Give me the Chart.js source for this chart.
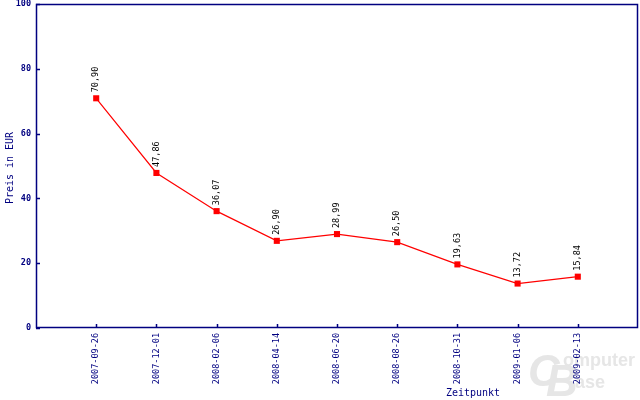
<!DOCTYPE html>
<html>
<head>
<meta charset="utf-8">
<script src="https://cdn.jsdelivr.net/npm/chart.js@4"></script>
<style>
  body { margin: 0; background: #fff; }
  canvas { display: block; }
</style>
</head>
<body>
<canvas id="preisChart" width="640" height="400"></canvas>
<script>
// Daten
const zeitpunkte = ['2007-09-26', '2007-12-01', '2008-02-06', '2008-04-14', '2008-06-20',
  '2008-08-26', '2008-10-31', '2009-01-06', '2009-02-13'];
const preise = [70.90, 47.86, 36.07, 26.90, 28.99, 26.50, 19.63, 13.72, 15.84];
const yTicks = [0, 20, 40, 60, 80, 100];

const NAVY = '#000080';
const MONO = '"DejaVu Sans Mono", "Liberation Mono", monospace';

// Rahmen, Ticks nach innen, Achsentitel, Wasserzeichen
const rahmenPlugin = {
  id: 'rahmen',
  beforeDraw(chart) {
    const ctx = chart.ctx;
    ctx.save();
    ctx.fillStyle = '#e6e6e6';
    ctx.font = 'italic bold 44px "Liberation Sans", Arial, sans-serif';
    ctx.textBaseline = 'alphabetic';
    ctx.fillText('C', 528, 386);
    ctx.fillText('B', 546, 396);
    ctx.font = 'bold 18px "Liberation Sans", Arial, sans-serif';
    ctx.fillText('omputer', 563, 366);
    ctx.fillText('ase', 575, 388);
    ctx.restore();
  },
  afterDraw(chart) {
    const { ctx, chartArea: a, scales } = chart;
    ctx.save();
    ctx.strokeStyle = NAVY;
    ctx.lineWidth = 1.5;
    ctx.strokeRect(a.left + 0.5, a.top + 0.5, a.right - a.left - 1, a.bottom - a.top - 1);
    ctx.beginPath();
    scales.y.ticks.forEach(t => {
      const y = Math.round(scales.y.getPixelForValue(t.value)) + 0.5;
      ctx.moveTo(a.left, y);
      ctx.lineTo(a.left + 4, y);
    });
    scales.x.ticks.forEach(t => {
      const x = Math.round(scales.x.getPixelForValue(t.value)) + 0.5;
      ctx.moveTo(x, a.bottom);
      ctx.lineTo(x, a.bottom - 4);
    });
    ctx.stroke();

    ctx.fillStyle = NAVY;
    ctx.font = '10px ' + MONO;
    ctx.textAlign = 'center';
    ctx.textBaseline = 'middle';
    ctx.fillText('Zeitpunkt', 473, 393);
    ctx.translate(10, 168);
    ctx.rotate(-Math.PI / 2);
    ctx.fillText('Preis in EUR', 0, 0);
    ctx.restore();
  }
};

// Werte senkrecht über den Punkten
const wertePlugin = {
  id: 'werte',
  afterDatasetsDraw(chart) {
    const ctx = chart.ctx;
    const meta = chart.getDatasetMeta(0);
    ctx.save();
    ctx.fillStyle = '#000';
    ctx.font = '8.5px ' + MONO;
    ctx.textAlign = 'left';
    ctx.textBaseline = 'middle';
    meta.data.forEach((pt, i) => {
      ctx.save();
      ctx.translate(pt.x, pt.y - 6);
      ctx.rotate(-Math.PI / 2);
      ctx.fillText(preise[i].toFixed(2).replace('.', ','), 0, 0);
      ctx.restore();
    });
    ctx.restore();
  }
};

new Chart(document.getElementById('preisChart').getContext('2d'), {
  type: 'line',
  data: {
    datasets: [{
      data: preise.map((p, i) => ({ x: i + 1, y: p })),
      borderColor: '#ff0000',
      borderWidth: 1.2,
      backgroundColor: '#ff0000',
      pointStyle: 'rect',
      pointRadius: 4.3,
      pointBorderWidth: 0,
      tension: 0,
      fill: false,
    }],
  },
  options: {
    responsive: false,
    animation: false,
    layout: { autoPadding: false, padding: { top: 4, right: 2, left: 0, bottom: 0 } },
    plugins: { legend: { display: false }, tooltip: { enabled: false } },
    scales: {
      x: {
        type: 'linear',
        min: 0,
        max: zeitpunkte.length + 1,
        afterBuildTicks: axis => { axis.ticks = zeitpunkte.map((_, i) => ({ value: i + 1 })); },
        afterFit: axis => {
          axis.height = 72;
          axis.paddingLeft = 0;
          axis.paddingRight = 0;
        },
        grid: { display: false, drawTicks: false },
        border: { display: false },
        ticks: {
          autoSkip: false,
          minRotation: 90,
          maxRotation: 90,
          padding: 5,
          color: NAVY,
          font: { family: MONO, size: 8.5 },
          callback: v => zeitpunkte[v - 1],
        },
      },
      y: {
        min: 0,
        max: 100,
        afterBuildTicks: axis => { axis.ticks = yTicks.map(v => ({ value: v })); },
        afterFit: axis => {
          axis.width = 36;
          axis.paddingTop = 0;
          axis.paddingBottom = 0;
        },
        grid: { display: false, drawTicks: false },
        border: { display: false },
        ticks: {
          padding: 5,
          color: NAVY,
          font: { family: MONO, size: 8.5, weight: 'bold' },
        },
      },
    },
  },
  plugins: [rahmenPlugin, wertePlugin],
});
</script>
</body>
</html>
